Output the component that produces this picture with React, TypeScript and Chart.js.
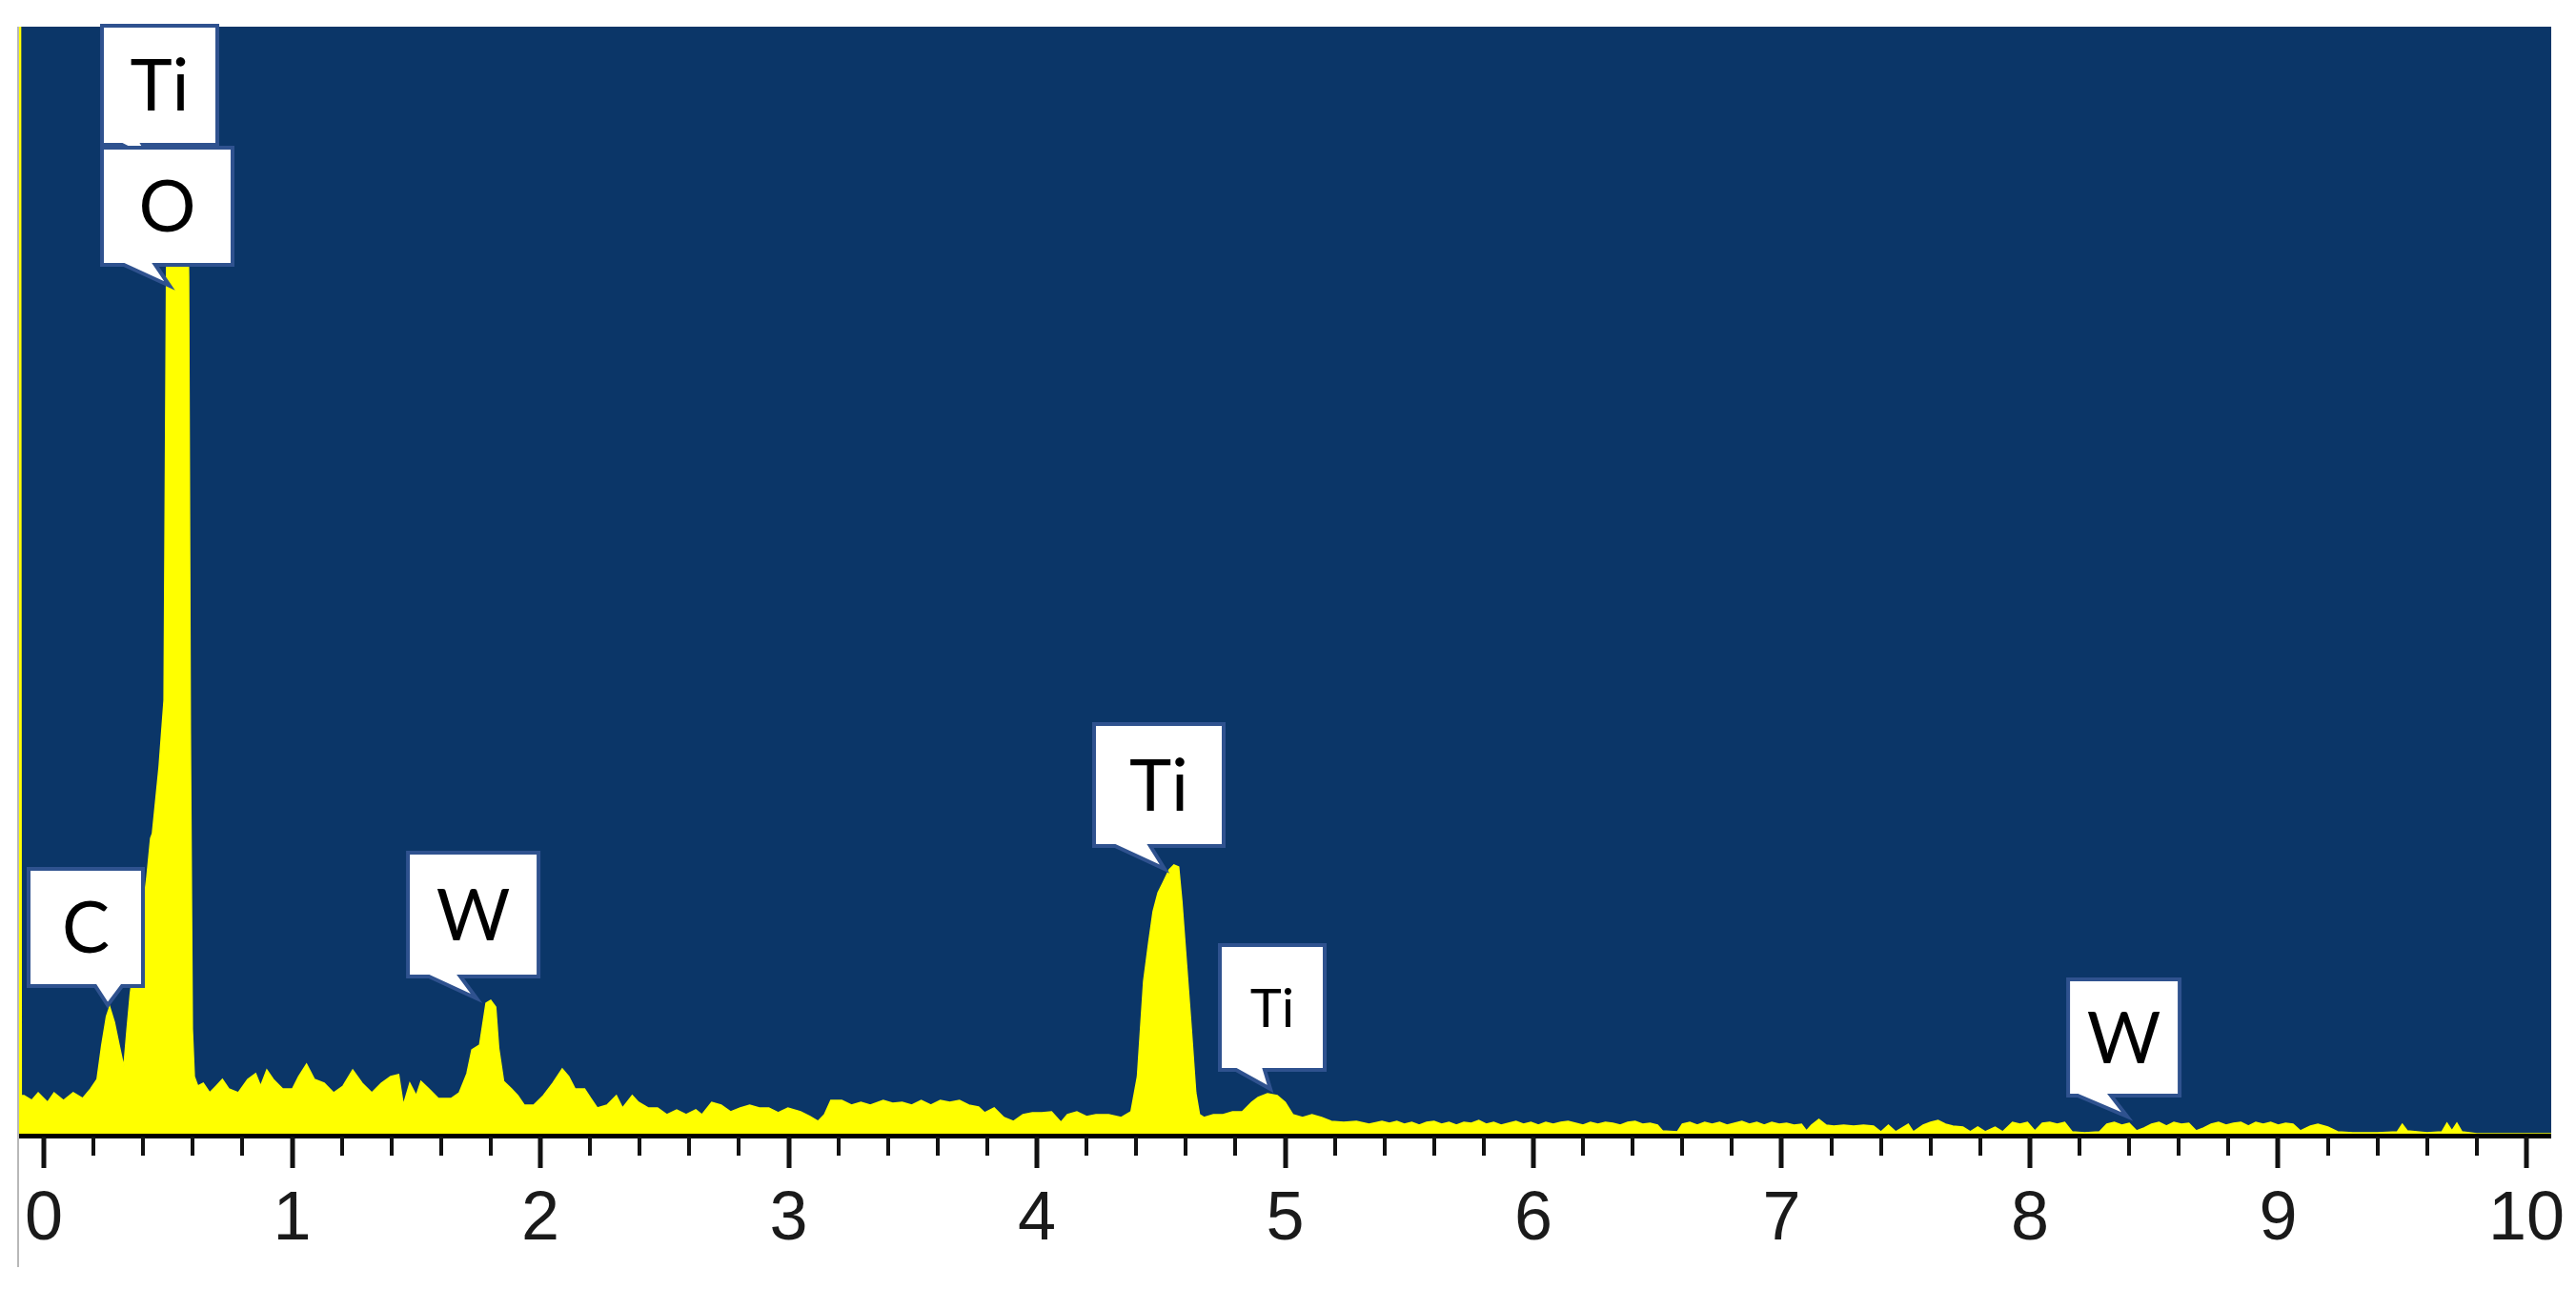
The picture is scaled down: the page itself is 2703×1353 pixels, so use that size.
import React, { useEffect, useRef } from 'react';
import { Chart, registerables } from 'chart.js';

Chart.register(...registerables);

// ---------- DATA ----------
const energyKeV: number[] = [
  -0.1, -0.094, -0.091, -0.08, -0.049, -0.023, 0.015, 0.041, 0.079, 0.118, 0.156, 0.188,
  0.214, 0.233, 0.252, 0.265, 0.284, 0.303, 0.322, 0.335, 0.348, 0.365, 0.39, 0.415, 0.43,
  0.437, 0.464, 0.484, 0.494, 0.505, 0.57, 0.583, 0.59, 0.598, 0.606, 0.62, 0.642, 0.668,
  0.694, 0.719, 0.745, 0.783, 0.821, 0.853, 0.873, 0.898, 0.924, 0.962, 1.001, 1.026, 1.058,
  1.09, 1.129, 1.167, 1.205, 1.244, 1.282, 1.321, 1.359, 1.397, 1.429, 1.448, 1.474, 1.5,
  1.519, 1.551, 1.589, 1.64, 1.673, 1.704, 1.724, 1.755, 1.781, 1.8, 1.82, 1.832, 1.852,
  1.884, 1.909, 1.935, 1.973, 2.012, 2.05, 2.088, 2.114, 2.14, 2.178, 2.203, 2.229, 2.268,
  2.306, 2.331, 2.37, 2.395, 2.434, 2.472, 2.51, 2.549, 2.587, 2.626, 2.651, 2.69, 2.728,
  2.767, 2.805, 2.843, 2.882, 2.92, 2.958, 2.997, 3.048, 3.086, 3.118, 3.144, 3.17, 3.214,
  3.253, 3.291, 3.329, 3.381, 3.419, 3.457, 3.496, 3.534, 3.573, 3.611, 3.649, 3.688, 3.726,
  3.765, 3.79, 3.828, 3.867, 3.905, 3.944, 3.982, 4.02, 4.059, 4.097, 4.123, 4.161, 4.2,
  4.238, 4.289, 4.34, 4.379, 4.405, 4.43, 4.45, 4.468, 4.488, 4.507, 4.533, 4.552, 4.571,
  4.584, 4.603, 4.622, 4.64, 4.655, 4.673, 4.711, 4.75, 4.788, 4.827, 4.865, 4.891, 4.929,
  4.968, 5.0, 5.031, 5.07, 5.108, 5.147, 5.186, 5.236, 5.287, 5.338, 5.39,
  5.42, 5.45, 5.48, 5.51, 5.54, 5.57, 5.6, 5.63, 5.66, 5.69, 5.72, 5.75, 5.78, 5.81, 5.84,
  5.87, 5.9, 5.93, 5.96, 5.99, 6.02, 6.05, 6.08, 6.11, 6.14, 6.17, 6.2, 6.23, 6.26, 6.29,
  6.32, 6.35, 6.38, 6.41, 6.44, 6.47, 6.5, 6.52, 6.58, 6.6, 6.63, 6.66, 6.69, 6.72, 6.75,
  6.78, 6.81, 6.84, 6.87, 6.9, 6.93, 6.96, 6.99, 7.02, 7.05, 7.08, 7.1, 7.12, 7.15, 7.18,
  7.21, 7.25, 7.29, 7.33, 7.37, 7.4, 7.43, 7.46, 7.51, 7.53, 7.57, 7.6, 7.63, 7.66, 7.69,
  7.73, 7.76, 7.79, 7.82, 7.86, 7.89, 7.93, 7.96, 7.99, 8.02, 8.05, 8.08, 8.11, 8.14, 8.17,
  8.22, 8.28, 8.31, 8.34, 8.37, 8.4, 8.43, 8.46, 8.49, 8.52, 8.55, 8.58, 8.61, 8.64, 8.67,
  8.7, 8.73, 8.76, 8.79, 8.82, 8.85, 8.88, 8.91, 8.94, 8.97, 9.0, 9.03, 9.06, 9.09, 9.13,
  9.16, 9.2, 9.24, 9.3, 9.4, 9.48, 9.5, 9.52, 9.6, 9.66, 9.68, 9.7, 9.72, 9.74, 9.8, 10.1,
];

const counts: number[] = [
  1162, 1162, 40, 40, 35, 43, 33, 43, 35, 43, 37, 47,
  57, 93, 123, 133, 117, 93, 70, 110, 147, 180, 215, 270, 310,
  315, 385, 455, 900, 1130, 1130, 900, 420, 110, 60, 50, 53, 43,
  50, 57, 47, 43, 57, 63, 50, 67, 57, 47, 47, 60, 73,
  57, 53, 43, 50, 67, 53, 43, 53, 60, 62, 30, 53, 40,
  55, 47, 37, 37, 43, 63, 88, 93, 137, 140, 133, 90, 55,
  47, 40, 30, 30, 40, 53, 68, 60, 47, 47, 37, 27, 30,
  40, 27, 40, 33, 27, 27, 20, 25, 20, 25, 20, 33, 30,
  23, 27, 30, 27, 27, 22, 27, 23, 18, 13, 20, 35, 35,
  30, 33, 30, 35, 32, 33, 30, 35, 30, 35, 33, 35, 30,
  28, 22, 27, 17, 13, 20, 22, 22, 23, 12, 20, 23, 18,
  20, 20, 17, 23, 60, 160, 200, 233, 253, 263, 277, 282, 280,
  244, 177, 110, 43, 20, 17, 20, 20, 23, 23, 33, 38, 42,
  40, 33, 20, 17, 20, 17, 13, 12, 13, 10, 13,
  11, 13, 10, 12, 9, 12, 13, 10, 12, 9, 12, 11, 14, 10, 12,
  9, 11, 13, 10, 12, 9, 12, 10, 12, 13, 11, 9, 12, 10, 12,
  11, 9, 12, 13, 10, 11, 9, 3, 2, 10, 12, 9, 12, 10, 12,
  9, 11, 13, 10, 12, 9, 12, 10, 11, 9, 10, 3, 9, 15, 9,
  8, 9, 8, 9, 8, 2, 9, 2, 10, 2, 9, 12, 14, 10, 8,
  7, 2, 7, 2, 7, 2, 12, 10, 12, 3, 11, 12, 10, 12, 2,
  1, 2, 10, 12, 9, 11, 3, 6, 10, 12, 8, 12, 10, 11, 3,
  6, 10, 12, 9, 11, 12, 8, 12, 10, 12, 9, 11, 10, 3, 8,
  10, 7, 2, 1, 1, 2, 10, 3, 1, 2, 11, 3, 11, 2, 0, 0,
];

const majorTicks: number[] = [0, 1, 2, 3, 4, 5, 6, 7, 8, 9, 10];
const tickLabels: string[] = ['0', '1', '2', '3', '4', '5', '6', '7', '8', '9', '10'];
const minorTickStep = 0.2;

const peakLabels: string[] = ['Ti', 'O', 'C', 'W', 'Ti', 'Ti', 'W'];
const peakTipKeV: number[] = [0.4375, 0.5066, 0.257, 1.743, 4.5144, 4.9405, 8.392];
const peakTipCounts: number[] = [1022, 890, 135, 142, 278, 47, 18];

// ---------- LAYOUT / STYLE ----------
// callout geometry, px offsets relative to the tail tip
const calloutGeom = [
  { l: -53, t: -141, r: 68, b: -16, bl: -32, br: -10, size: 75 },
  { l: -71, t: -145, r: 66, b: -22, bl: -48, br: -15, size: 75 },
  { l: -83, t: -143, r: 37, b: -20, bl: -13, br: 15, size: 75 },
  { l: -72, t: -153, r: 65, b: -23, bl: -50, br: -17, size: 75 },
  { l: -74, t: -152, r: 62, b: -24, bl: -52, br: -15, size: 75 },
  { l: -53, t: -151, r: 57, b: -20, bl: -36, br: -6, size: 56 },
  { l: -62, t: -144, r: 55, b: -22, bl: -52, br: -17, size: 75 },
];

const BG_BLUE = '#0b3668';
const YELLOW = '#ffff00';
const CALLOUT_BORDER = '#2f528f';

const decorPlugin = {
  id: 'edsDecor',
  beforeDraw(chart: any) {
    const { ctx, chartArea } = chart;
    ctx.save();
    ctx.fillStyle = '#ffffff';
    ctx.fillRect(0, 0, chart.width, chart.height);
    ctx.fillStyle = BG_BLUE;
    ctx.fillRect(chartArea.left, chartArea.top, chartArea.right - chartArea.left, chartArea.bottom - chartArea.top);
    ctx.restore();
  },
  afterDatasetsDraw(chart: any) {
    const { ctx, chartArea } = chart;
    const xs = chart.scales.x;
    const ys = chart.scales.y;
    const y0 = ys.getPixelForValue(0);
    ctx.save();
    // left thin grey frame line
    ctx.fillStyle = '#b8b8b8';
    ctx.fillRect(chartArea.left - 2, chartArea.top, 2, 1330 - chartArea.top);
    // axis line
    ctx.fillStyle = '#000000';
    ctx.fillRect(chartArea.left, y0, chartArea.right - chartArea.left, 5);
    // ticks
    const nSteps = Math.round((majorTicks[majorTicks.length - 1] - majorTicks[0]) / minorTickStep);
    for (let i = 0; i <= nSteps; i++) {
      const v = majorTicks[0] + i * minorTickStep;
      const isMajor = i % 5 === 0;
      const px = Math.round(xs.getPixelForValue(v));
      const w = isMajor ? 5 : 4;
      const len = isMajor ? 33 : 20;
      ctx.fillStyle = '#111111';
      ctx.fillRect(px - w / 2, y0 + 3, w, len);
    }
    // callouts
    for (let i = 0; i < peakLabels.length; i++) {
      const g = calloutGeom[i];
      const tx = xs.getPixelForValue(peakTipKeV[i]);
      const ty = ys.getPixelForValue(peakTipCounts[i]);
      const x0 = tx + g.l, x1 = tx + g.r, yt = ty + g.t, yb = ty + g.b;
      ctx.beginPath();
      ctx.moveTo(x0, yt);
      ctx.lineTo(x1, yt);
      ctx.lineTo(x1, yb);
      ctx.lineTo(tx + g.br, yb);
      ctx.lineTo(tx, ty);
      ctx.lineTo(tx + g.bl, yb);
      ctx.lineTo(x0, yb);
      ctx.closePath();
      ctx.fillStyle = '#ffffff';
      ctx.fill();
      ctx.lineWidth = 4;
      ctx.lineJoin = 'miter';
      ctx.strokeStyle = CALLOUT_BORDER;
      ctx.stroke();
      ctx.fillStyle = '#000000';
      ctx.font = `${g.size}px Lato`;
      ctx.textAlign = 'center';
      ctx.textBaseline = 'alphabetic';
      ctx.fillText(peakLabels[i], (x0 + x1) / 2, (yt + yb) / 2 + 0.358 * g.size);
    }
    ctx.restore();
  },
};

export default function App() {
  const canvasRef = useRef<HTMLCanvasElement | null>(null);

  useEffect(() => {
    document.body.style.margin = '0';
    const canvas = canvasRef.current;
    if (!canvas) return;
    const points = energyKeV.map((x, i) => ({ x, y: counts[i] }));
    const chart = new Chart(canvas, {
      type: 'line',
      data: {
        datasets: [
          {
            data: points,
            borderColor: YELLOW,
            borderWidth: 1.5,
            backgroundColor: YELLOW,
            fill: 'origin',
            pointRadius: 0,
            tension: 0,
          },
        ],
      },
      options: {
        responsive: false,
        animation: false,
        devicePixelRatio: 1,
        layout: { padding: { left: 20, right: 26, top: 28, bottom: 0 } },
        plugins: { legend: { display: false }, tooltip: { enabled: false } },
        scales: {
          x: {
            type: 'linear',
            min: -0.1,
            max: 10.1,
            afterBuildTicks: (s: any) => {
              s.ticks = majorTicks.map((v) => ({ value: v }));
            },
            afterFit: (s: any) => {
              s.height = 163;
              s.paddingLeft = 0;
              s.paddingRight = 0;
              s.paddingTop = 0;
              s.paddingBottom = 0;
            },
            grid: { display: false, drawTicks: false },
            border: { display: false },
            ticks: {
              padding: 48,
              autoSkip: false,
              maxRotation: 0,
              color: '#1a1a1a',
              font: { family: 'Liberation Sans', size: 72 },
              callback: (v: any) => {
                const idx = majorTicks.indexOf(Number(v));
                return idx >= 0 ? tickLabels[idx] : '';
              },
            },
          },
          y: {
            type: 'linear',
            display: false,
            min: 0,
            max: 1162,
          },
        },
      },
      plugins: [decorPlugin],
    });
    return () => chart.destroy();
  }, []);

  return (
    <div style={{ width: 2703, height: 1353, position: 'relative' }}>
      <canvas ref={canvasRef} width={2703} height={1353} style={{ display: 'block' }} />
    </div>
  );
}
